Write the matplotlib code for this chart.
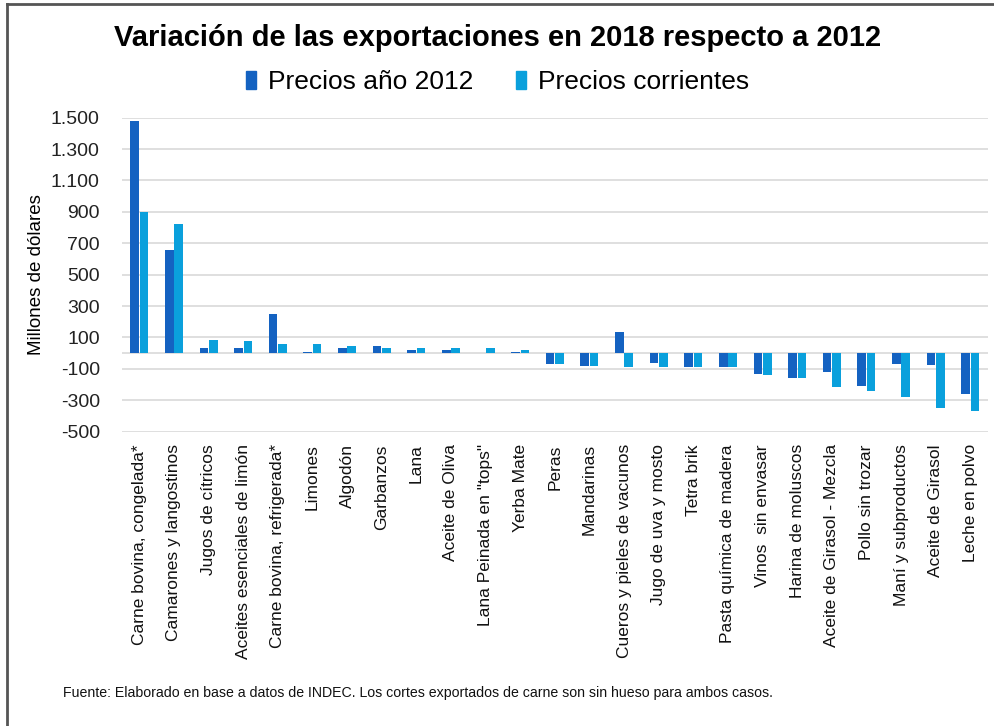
import numpy as np
import matplotlib
matplotlib.use('Agg')
import matplotlib.pyplot as plt
from matplotlib.lines import Line2D
from matplotlib.patches import Patch

categories = [
    'Carne bovina, congelada*', 'Camarones y langostinos', 'Jugos de cítricos',
    'Aceites esenciales de limón', 'Carne bovina, refrigerada*', 'Limones',
    'Algodón', 'Garbanzos', 'Lana', 'Aceite de Oliva', 'Lana Peinada en "tops"',
    'Yerba Mate', 'Peras', 'Mandarinas', 'Cueros y pieles de vacunos',
    'Jugo de uva y mosto', 'Tetra brik', 'Pasta química de madera',
    'Vinos  sin envasar', 'Harina de moluscos', 'Aceite de Girasol - Mezcla',
    'Pollo sin trozar', 'Maní y subproductos', 'Aceite de Girasol', 'Leche en polvo',
]
precios_2012 = [1480, 660, 32, 30, 250, 10, 32, 47, 20, 22, 0, 7, -68, -80, 138,
                -64, -90, -90, -134, -155, -121, -206, -70, -78, -261]
precios_corrientes = [900, 824, 85, 79, 60, 60, 47, 32, 34, 34, 32, 22, -68, -80, -91,
                      -91, -90, -90, -138, -155, -216, -240, -282, -346, -367]
yticks = list(range(-500, 1501, 200))

dark = '#1462C1'
light = '#0AA0DC'
fontname = 'Liberation Sans'

fig = plt.figure(figsize=(9.95, 7.26), dpi=100)
ax = fig.add_axes([0.1226, 0.4054, 0.870, 0.4325])

x = np.arange(len(categories))
w = 0.25
ax.bar(x - 0.135, precios_2012, width=w, color=dark, zorder=3)
ax.bar(x + 0.135, precios_corrientes, width=w, color=light, zorder=3)

ax.set_xlim(-0.5, len(categories) - 0.5)
ax.set_ylim(-500, 1500)
ax.set_yticks(yticks)
ax.set_yticklabels(['{:,}'.format(v).replace(',', '.') for v in yticks],
                   fontsize=14, family=fontname, color='#222222')
ax.grid(axis='y', color='#d9d9d9', linewidth=1.2, zorder=0)
ax.axhline(0, color='#d9d9d9', linewidth=1.2, zorder=1)
for s in ax.spines.values():
    s.set_visible(False)
ax.tick_params(axis='both', length=0, pad=16)

# category labels hang from the zero line
ax.set_xticks([])
for i, c in enumerate(categories):
    ax.annotate(c, xy=(i, -500), xytext=(0, -9), textcoords='offset points',
                rotation=90, ha='center', va='top', fontsize=12.5,
                family=fontname, color='#111111', annotation_clip=False)

ax.set_ylabel('Millones de dólares', fontsize=13.5, family=fontname, labelpad=4)

fig.text(0.5, 0.948, 'Variación de las exportaciones en 2018 respecto a 2012',
         ha='center', va='center', fontsize=21, fontweight='bold', family=fontname)

handles = [Patch(color=dark), Patch(color=light)]
fig.legend(handles, ['Precios año 2012', 'Precios corrientes'], loc='center',
           bbox_to_anchor=(0.5, 0.887), ncol=2, frameon=False, handlelength=0.38,
           handleheight=0.7, handletextpad=0.46, columnspacing=1.6,
           prop={'family': fontname, 'size': 19})

fig.text(0.063, 0.045,
         'Fuente: Elaborado en base a datos de INDEC. Los cortes exportados de carne son sin hueso para ambos casos.',
         ha='left', va='center', fontsize=10.2, family=fontname, color='#111111')

# frame of the original picture
fig.add_artist(Line2D([0.007, 0.007], [0, 0.994], transform=fig.transFigure,
                      color='#555555', linewidth=2))
fig.add_artist(Line2D([0.007, 1], [0.994, 0.994], transform=fig.transFigure,
                      color='#555555', linewidth=2))

fig.savefig('out.png', dpi=100)
